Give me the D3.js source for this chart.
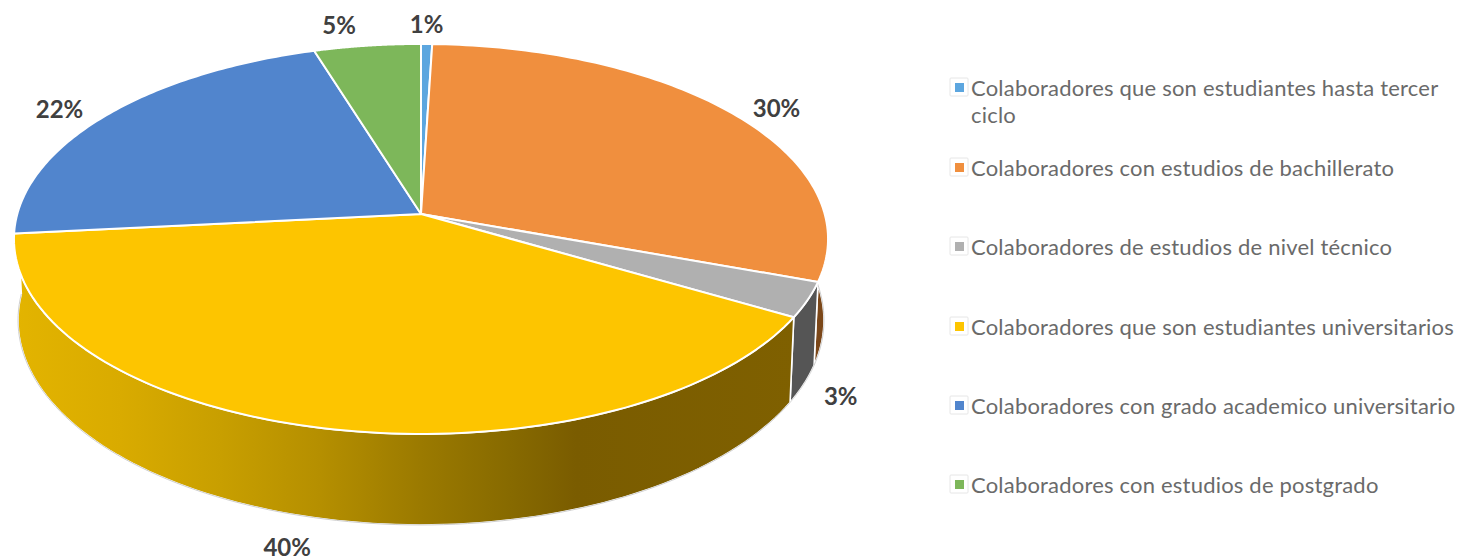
<!DOCTYPE html>
<html><head><meta charset="utf-8">
<script src="https://cdn.jsdelivr.net/npm/d3@7"></script>
<style>html,body{margin:0;padding:0;background:#fff;overflow:hidden}</style></head>
<body><svg id="c" width="1458" height="560"></svg>
<script>
const categories = [
  ["Colaboradores que son estudiantes hasta tercer","ciclo"],
  ["Colaboradores con estudios de bachillerato"],
  ["Colaboradores de estudios de nivel técnico"],
  ["Colaboradores que son estudiantes universitarios"],
  ["Colaboradores con grado academico universitario"],
  ["Colaboradores con estudios de postgrado"]
];
const values = [0.5, 30, 2.9, 40, 21.8, 4.8];
const valueLabels = ["1%","30%","3%","40%","22%","5%"];
const colors = ["#5ca6df","#f08f3e","#b0b0b0","#fdc500","#5185cd","#7db75a"];
const wallColors = ["#2c5c85","#7b4719","#555555","#7d6000","#2c4f80","#45702f"];
const labelOffsets = [[0,-19],[44,-4],[33,97],[-36,119.5],[-47,-5],[-28,-20]];
const legendY = [88,168,247,327,406,485];

const svg = d3.select("#c");
// perspective pie plane
const P = {cx:421, cy:214, a:191.8, b:403.7, k:0.128};
const project = (t, r=1) => {
  const X = r*Math.sin(t), Y = r*Math.cos(t), d = 1+P.k*Y;
  return [P.cx + P.b*X/d, P.cy - P.a*Y/d];
};
const lower = ([x,y]) => [P.cx + (x-P.cx)*0.99, P.cy + (y-P.cy)*1.05 + 80];
const arcs = d3.pie().sort(null).value(d=>d)(values);
const sampleRange = (a,b) => d3.range(0,101).map(i => a + (b-a)*i/100);
const sample = s => sampleRange(s.startAngle, s.endAngle);
const line = d3.line();

const defs = svg.append("defs");
const grad = defs.append("linearGradient").attr("id","wallYellow")
  .attr("gradientUnits","userSpaceOnUse").attr("x1",14).attr("x2",795).attr("y1",0).attr("y2",0);
[[0,"#e3b400"],[0.136,"#d9ab00"],[0.264,"#c89f00"],[0.392,"#b58f00"],[0.52,"#9b7a00"],[0.635,"#876a00"],[0.72,"#7a5c00"],[1,"#7f6000"]]
  .forEach(([o,c])=>grad.append("stop").attr("offset",o).attr("stop-color",c));

// outer walls: only the slices that face the viewer; the yellow wall wraps to the left edge
const frontWalls = [arcs[1], arcs[2], arcs[3]].map(s => ({
  index:s.index, a:s.startAngle, b: s.index===3 ? Math.PI*1.5 : s.endAngle
}));
const wall = svg.append("g");
wall.selectAll("path.w").data(frontWalls).join("path").attr("class","w")
  .attr("d", s => {
    const top = sampleRange(s.a,s.b).map(t=>project(t));
    return line(top.concat(top.map(lower).reverse()))+"Z";
  })
  .attr("fill",s=> s.index===3 ? "url(#wallYellow)" : wallColors[s.index])
  .attr("stroke","#fff").attr("stroke-width",1.6).attr("stroke-linejoin","round");
wall.selectAll("path.r").data(frontWalls).join("path").attr("class","r")
  .attr("d", s => line(sampleRange(s.a,s.b).map(t=>lower(project(t)))))
  .attr("fill","none").attr("stroke","#cfcfcf").attr("stroke-width",1);

// top faces
svg.append("g").selectAll("path").data(arcs).join("path")
  .attr("d", s => line([[P.cx,P.cy]].concat(sample(s).map(t=>project(t))))+"Z")
  .attr("fill",(s,i)=>colors[i])
  .attr("stroke","#fff").attr("stroke-width",2).attr("stroke-linejoin","round");

// data labels
svg.append("g").selectAll("text").data(arcs).join("text")
  .attr("x",(s,i)=>project((s.startAngle+s.endAngle)/2)[0]+labelOffsets[i][0])
  .attr("y",(s,i)=>project((s.startAngle+s.endAngle)/2)[1]+labelOffsets[i][1]+8)
  .attr("text-anchor","middle")
  .attr("font-family","Lato, sans-serif")
  .attr("font-weight",700).attr("font-size",24).attr("fill","#404040")
  .text((s,i)=>valueLabels[i]);

// legend
const lg = svg.append("g").selectAll("g").data(categories).join("g")
  .attr("transform",(d,i)=>`translate(950,${legendY[i]})`);
lg.append("rect").attr("x",0).attr("y",-10).attr("width",18).attr("height",18).attr("rx",1)
  .attr("fill","#fff").attr("stroke","#e6e6e6");
lg.append("rect").attr("x",5).attr("y",-5).attr("width",9).attr("height",9)
  .attr("fill",(d,i)=>colors[i]);
lg.selectAll("text").data(d=>d).join("text")
  .attr("x",21).attr("y",(d,i)=>i*27+7.5)
  .attr("font-family","Lato, sans-serif").attr("font-size",22).attr("fill","#6a6a6a")
  .attr("letter-spacing",0.2)
  .text(d=>d);
</script></body></html>
